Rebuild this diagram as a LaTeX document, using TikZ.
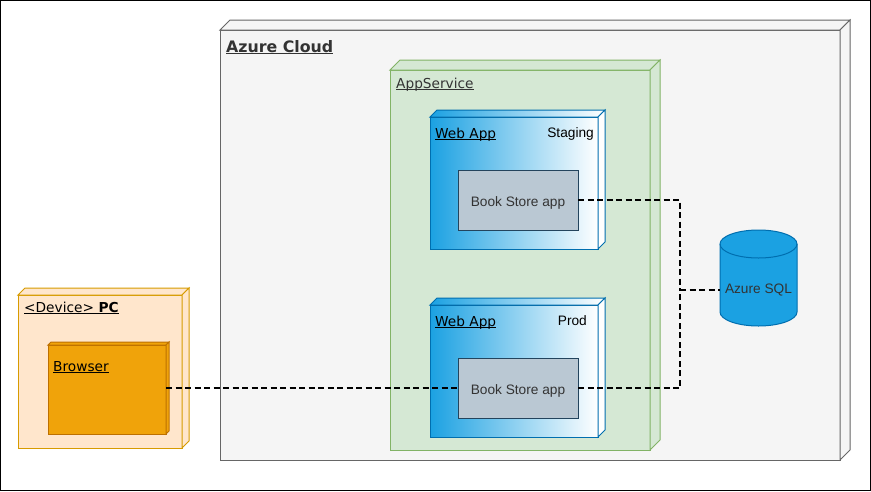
\documentclass[tikz,border=0pt]{standalone}
\usepackage{fontspec}
\setmainfont{DejaVu Sans}
\newfontfamily\arial{Liberation Sans}
\usetikzlibrary{calc}
\definecolor{cloudfill}{HTML}{F5F5F5}
\definecolor{cloudline}{HTML}{666666}
\definecolor{appfill}{HTML}{D5E8D4}
\definecolor{appline}{HTML}{82B366}
\definecolor{webblue}{HTML}{1BA1E2}
\definecolor{webline}{HTML}{006EAF}
\definecolor{bsfill}{HTML}{BAC8D3}
\definecolor{bsline}{HTML}{23445D}
\definecolor{pcfill}{HTML}{FFE6CC}
\definecolor{pcline}{HTML}{D79B00}
\definecolor{brfill}{HTML}{F0A30A}
\definecolor{brline}{HTML}{BD7000}
\definecolor{txtgray}{HTML}{333333}
\newcommand\ul[1]{\setbox0\hbox{#1}\rlap{\rule[-1.9pt]{\wd0}{0.9pt}}\box0}
\newcommand\cubefaces[4]{%
  \filldraw[#3] (#1.north west) -- ++(#2,-#2) -- ($(#1.north east)+(#2,-#2)$) -- (#1.north east) -- cycle;
  \filldraw[#4] (#1.north east) -- ++(#2,-#2) -- ($(#1.south east)+(#2,-#2)$) -- (#1.south east) -- cycle;}
\begin{document}
\begin{tikzpicture}[x=1pt,y=-1pt,
  box/.style={draw, line width=1pt, inner sep=0pt, outer sep=0pt, anchor=north west},
  lbl/.style={inner sep=0pt, anchor=base west, font=\fontsize{13.7}{16}\selectfont},
  albl/.style={inner sep=0pt, font=\arial\fontsize{13.7}{16}\selectfont},
  bsbox/.style={box, fill=bsfill, draw=bsline, minimum width=120pt, minimum height=60pt, text height=12pt, text depth=0pt, font=\arial\fontsize{13.7}{16}\selectfont, text=txtgray},
  conn/.style={draw=black, line width=2.3pt, dash pattern=on 6pt off 3.5pt}]
\useasboundingbox (0,0) rectangle (871,491);
\draw[line width=1pt] (0.5,0.5) rectangle (870.5,490.5);
% Azure cloud
\node[box, fill=cloudfill, draw=cloudline, minimum width=620pt, minimum height=430pt] (cloud) at (220,30) {};
\cubefaces{cloud}{10}{fill=cloudfill, draw=cloudline, line width=1pt}{fill=cloudfill, draw=cloudline, line width=1pt}
\node[lbl, font=\bfseries\fontsize{15.8}{18}\selectfont, text=txtgray] (cloudlbl) at (226,52) {\ul{Azure Cloud}};
% App service
\node[box, fill=appfill, draw=appline, minimum width=260pt, minimum height=380pt] (app) at (390,70) {};
\cubefaces{app}{10}{fill=appfill, draw=appline, line width=1pt}{fill=appfill, draw=appline, line width=1pt}
\node[lbl, text=txtgray] (applbl) at (396,88) {\ul{AppService}};
% Web App staging
\node[box, left color=webblue, right color=white, draw=webline, minimum width=168pt, minimum height=132pt] (webS) at (430,117) {};
\cubefaces{webS}{7}{left color=webblue, right color=white, draw=webline, line width=1pt}{fill=white, draw=webline, line width=1pt}
\node[lbl] (webSlbl) at (435,138) {\ul{Web App}};
\node[albl, anchor=base east] (stag) at (594,137) {Staging};
\node[bsbox] (bsS) at (458,170) {Book Store app};
% Web App prod
\node[box, left color=webblue, right color=white, draw=webline, minimum width=168pt, minimum height=132pt] (webP) at (430,305) {};
\cubefaces{webP}{7}{left color=webblue, right color=white, draw=webline, line width=1pt}{fill=white, draw=webline, line width=1pt}
\node[lbl] (webPlbl) at (435,326) {\ul{Web App}};
\node[albl, anchor=base east] (prod) at (587,325) {Prod};
\node[bsbox] (bsP) at (458,358) {Book Store app};
% PC
\node[box, fill=pcfill, draw=pcline, minimum width=164pt, minimum height=153pt] (pc) at (18,295) {};
\cubefaces{pc}{7}{fill=pcfill, draw=pcline, line width=1pt}{fill=pcfill, draw=pcline, line width=1pt}
\node[lbl] (pclbl) at (24,312) {\ul{<Device>\hspace{4.5pt}\textbf{PC}}};
\node[box, fill=brfill, draw=brline, minimum width=118pt, minimum height=89pt] (browser) at (48,345) {};
\cubefaces{browser}{3}{fill=brfill, draw=brline, line width=1pt}{fill=brfill, draw=brline, line width=1pt}
\node[lbl] (brlbl) at (53,371) {\ul{Browser}};
% Azure SQL cylinder
\filldraw[fill=webblue, draw=webline, line width=1pt] (720,244) -- (720,312) arc[start angle=180, end angle=0, x radius=38.5, y radius=14] -- (797,244) arc[start angle=0, end angle=-180, x radius=38.5, y radius=14] -- cycle;
\draw[webline, line width=1pt] (720,244) arc[start angle=180, end angle=0, x radius=38.5, y radius=14];
\node[albl, minimum width=77pt, text=txtgray] (sql) at (758.5,290) {Azure SQL};
% connectors
\coordinate (j) at (680,290);
\draw[conn] (bsS.east) -| (j);
\draw[conn] (bsP.east) -| (j);
\draw[conn] (j) -- (j -| sql.west);
\draw[conn] (browser.east |- bsP.west) -- (bsP.west);
\end{tikzpicture}
\end{document}
